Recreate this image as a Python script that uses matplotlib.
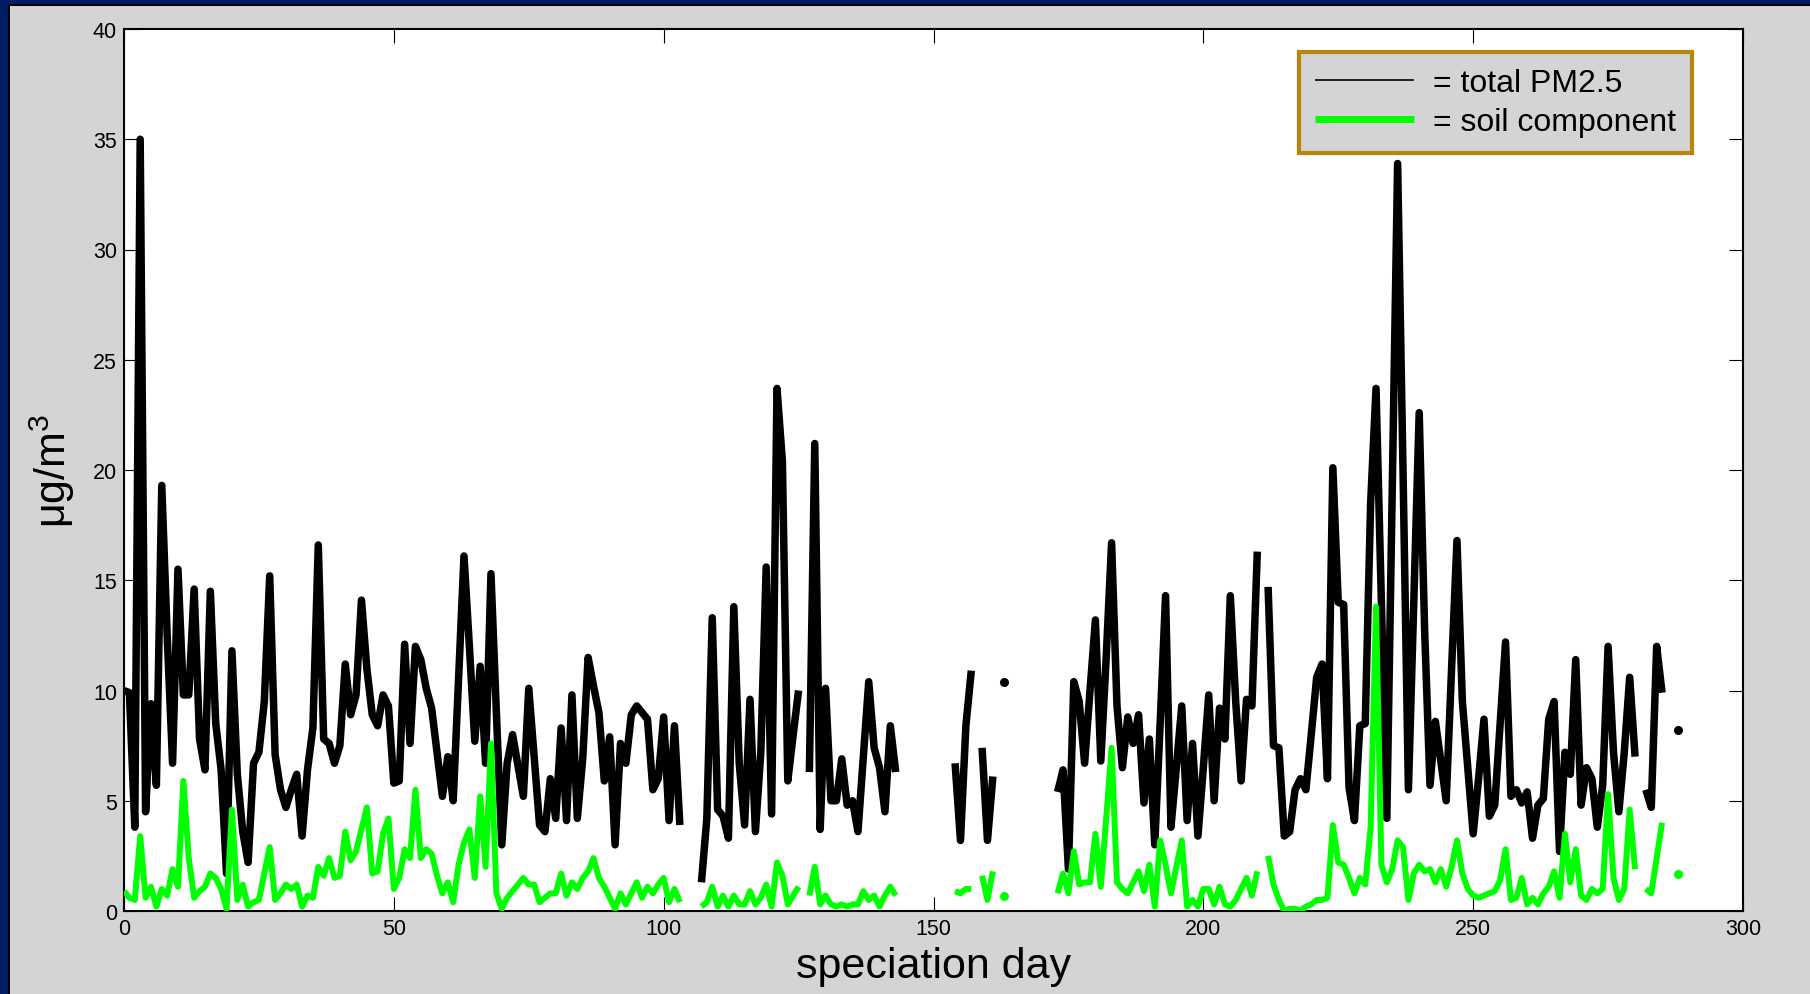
import numpy as np
import matplotlib
matplotlib.use("Agg")
import matplotlib.pyplot as plt
from matplotlib.patches import Rectangle

# speciation days where each run of valid samples begins
seg_start = [0, 107, 127, 154, 159, 163, 173, 212, 282, 288]

# total PM2.5 (ug/m3), one list per run
total_pm25 = [
    [10.0, 9.9, 3.8, 35.0, 4.5, 9.4, 5.7, 19.3, 12.5, 6.7,
     15.5, 9.8, 9.8, 14.6, 7.8, 6.4, 14.5, 8.5, 6.4, 1.7,
     11.8, 6.2, 3.6, 2.2, 6.7, 7.2, 9.5, 15.2, 7.1, 5.5,
     4.7, 5.5, 6.2, 3.4, 6.4, 8.3, 16.6, 7.8, 7.6, 6.7,
     7.5, 11.2, 8.9, 9.8, 14.1, 11.0, 8.9, 8.4, 9.8, 9.3,
     5.8, 5.9, 12.1, 7.6, 12.0, 11.4, 10.1, 9.2, 7.2, 5.2,
     7.0, 5.0, 10.5, 16.1, 12.0, 7.7, 11.1, 6.7, 15.3, 9.0,
     3.0, 6.7, 8.0, 6.6, 5.2, 10.1, 7.0, 3.9, 3.6, 6.0,
     4.2, 8.3, 4.1, 9.8, 4.2, 6.9, 11.5, 10.2, 9.0, 5.9,
     7.9, 3.0, 7.6, 6.7, 8.9, 9.3, 9.0, 8.7, 5.5, 6.0,
     8.8, 4.1, 8.4, 3.9],
    [1.3, 4.2, 13.3, 4.6, 4.3, 3.3, 13.8, 6.7, 3.9, 9.6,
     3.6, 7.2, 15.6, 4.4, 23.7, 20.4, 5.9, 8.0, 10.0],
    [6.3, 21.2, 3.7, 10.1, 5.0, 5.0, 6.9, 4.8, 5.0, 3.6,
     7.0, 10.4, 7.4, 6.5, 4.5, 8.4, 6.3],
    [6.7, 3.2, 8.4, 10.9],
    [7.4, 3.2, 6.1],
    [10.4],
    [5.4, 6.4, 1.9, 10.4, 9.5, 6.7, 10.0, 13.2, 6.8, 11.5,
     16.7, 9.3, 6.5, 8.8, 7.6, 8.9, 4.9, 7.8, 3.0, 8.5,
     14.3, 3.8, 6.5, 9.3, 4.1, 7.6, 3.4, 6.5, 9.8, 5.0,
     9.2, 7.8, 14.3, 9.5, 5.9, 9.6, 9.3, 16.3],
    [14.7, 7.5, 7.4, 3.4, 3.6, 5.5, 6.0, 5.5, 8.0, 10.6,
     11.2, 6.0, 20.1, 14.0, 13.9, 5.6, 4.1, 8.4, 8.5, 18.5,
     23.7, 14.0, 4.2, 19.0, 33.9, 20.0, 5.5, 14.0, 22.6, 12.8,
     5.7, 8.6, 6.8, 5.0, 11.0, 16.8, 9.5, 6.5, 3.5, 6.0,
     8.7, 4.3, 4.8, 8.5, 12.2, 5.2, 5.5, 4.9, 5.4, 3.3,
     4.8, 5.1, 8.7, 9.5, 2.7, 7.2, 6.2, 11.4, 4.8, 6.5,
     6.0, 3.8, 5.7, 12.0, 7.2, 4.5, 7.2, 10.6, 7.0],
    [5.5, 4.7, 12.0, 9.9],
    [8.2],
]

# soil component (ug/m3), same runs
soil = [
    [0.9, 0.6, 0.5, 3.4, 0.6, 1.1, 0.2, 1.0, 0.7, 1.9,
     1.1, 5.9, 2.4, 0.6, 0.9, 1.1, 1.7, 1.5, 1.0, 0.1,
     4.6, 0.5, 1.2, 0.2, 0.4, 0.5, 1.7, 2.9, 0.5, 0.8,
     1.2, 1.0, 1.2, 0.2, 0.7, 0.6, 2.0, 1.6, 2.4, 1.5,
     1.6, 3.6, 2.3, 2.7, 3.7, 4.7, 1.7, 1.8, 3.5, 4.2,
     1.0, 1.5, 2.8, 2.4, 5.5, 2.4, 2.8, 2.6, 1.6, 0.8,
     1.3, 0.4, 2.1, 3.1, 3.7, 1.5, 5.2, 2.0, 7.6, 0.8,
     0.1, 0.6, 0.9, 1.2, 1.5, 1.2, 1.2, 0.4, 0.6, 0.8,
     0.8, 1.7, 0.7, 1.3, 1.0, 1.5, 1.8, 2.4, 1.5, 1.1,
     0.6, 0.1, 0.8, 0.3, 0.8, 1.3, 0.6, 1.1, 0.8, 1.2,
     1.5, 0.4, 1.0, 0.4],
    [0.2, 0.4, 1.1, 0.2, 0.7, 0.2, 0.7, 0.3, 0.3, 0.9,
     0.3, 0.6, 1.2, 0.2, 2.2, 1.6, 0.3, 0.7, 1.1],
    [0.7, 2.0, 0.3, 0.7, 0.3, 0.2, 0.3, 0.2, 0.3, 0.3,
     0.9, 0.5, 0.7, 0.2, 0.7, 1.1, 0.7],
    [0.9, 0.8, 1.0, 1.0],
    [1.6, 0.5, 1.8],
    [0.7],
    [0.8, 1.7, 0.8, 2.7, 1.2, 1.3, 1.3, 3.5, 1.1, 4.2,
     7.4, 1.3, 1.0, 0.8, 1.3, 1.8, 0.9, 2.1, 0.2, 3.2,
     2.1, 0.8, 2.0, 3.2, 0.2, 0.5, 0.2, 1.0, 1.0, 0.3,
     1.1, 0.3, 0.2, 0.5, 1.0, 1.5, 0.7, 1.8],
    [2.5, 1.2, 0.5, 0.0, 0.1, 0.1, 0.0, 0.2, 0.3, 0.5,
     0.5, 0.6, 3.9, 2.2, 2.1, 1.5, 0.8, 1.5, 1.2, 3.8,
     13.8, 2.1, 1.3, 1.9, 3.2, 2.9, 0.5, 1.7, 2.1, 1.8,
     1.9, 1.3, 1.9, 1.1, 2.0, 3.2, 1.7, 1.0, 0.7, 0.6,
     0.7, 0.8, 0.9, 1.4, 2.8, 0.5, 0.6, 1.5, 0.3, 0.6,
     0.3, 0.8, 1.1, 1.8, 0.6, 3.5, 1.3, 2.8, 0.7, 0.5,
     1.0, 0.8, 1.0, 5.3, 1.5, 0.5, 1.0, 4.6, 1.9],
    [1.0, 0.8, 2.4, 4.0],
    [1.7],
]

n_days = 289
xticks = [0, 50, 100, 150, 200, 250, 300]
yticks = [0, 5, 10, 15, 20, 25, 30, 35, 40]


def build_series(starts, runs):
    y = np.full(n_days, np.nan)
    for s, vals in zip(starts, runs):
        y[s:s + len(vals)] = vals
    return y


def lone_points(y):
    # samples with no valid neighbour on either side show up as dots
    ok = ~np.isnan(y)
    left = np.r_[False, ok[:-1]]
    right = np.r_[ok[1:], False]
    return ok & ~left & ~right


day = np.arange(n_days)
pm = build_series(seg_start, total_pm25)
sl = build_series(seg_start, soil)

plt.rcParams['font.family'] = ['Liberation Sans', 'DejaVu Sans']
plt.rcParams['mathtext.fontset'] = 'custom'
plt.rcParams['mathtext.rm'] = 'Liberation Sans'
plt.rcParams['mathtext.it'] = 'Liberation Sans'

bg = '#D4D4D6'
navy = '#001C62'
fig = plt.figure(figsize=(18.1, 9.95), dpi=100, facecolor=bg)

# slide frame, dark blue on the left and top
fig.patches.append(Rectangle((0, 0), 8 / 1810, 1, transform=fig.transFigure,
                             facecolor=navy, edgecolor='none', zorder=0))
fig.patches.append(Rectangle((0, 1 - 5 / 995), 1, 5 / 995, transform=fig.transFigure,
                             facecolor=navy, edgecolor='none', zorder=0))
fig.patches.append(Rectangle((8 / 1810, 0), 1.5 / 1810, 1 - 5 / 995, transform=fig.transFigure,
                             facecolor='#000000', edgecolor='none', zorder=0))
fig.patches.append(Rectangle((8 / 1810, 1 - 6.5 / 995), 1, 1.5 / 995, transform=fig.transFigure,
                             facecolor='#000000', edgecolor='none', zorder=0))

ax = fig.add_axes([124 / 1810, 1 - 912 / 995, 1619 / 1810, 882 / 995])
ax.set_facecolor('white')

l1, = ax.plot(day, pm, color='black', lw=5.4, solid_joinstyle='round',
              solid_capstyle='butt', label='= total PM2.5', zorder=3)
l2, = ax.plot(day, sl, color='#00FF00', lw=4.3, solid_joinstyle='round',
              solid_capstyle='butt', label='= soil component', zorder=4)

lp = lone_points(pm)
ax.plot(day[lp], pm[lp], 'o', color='black', ms=6.5, mew=0, zorder=3)
ls = lone_points(sl)
ax.plot(day[ls], sl[ls], 'o', color='#00FF00', ms=6.5, mew=0, zorder=4)

ax.set_xlim(0, 300)
ax.set_ylim(0, 40)
ax.set_xticks(xticks)
ax.set_yticks(yticks)
ax.tick_params(direction='in', length=10, width=0.8, top=True, right=True,
               labelsize=15.5, pad=5)
for sp in ax.spines.values():
    sp.set_linewidth(1.5)

ax.set_xlabel('speciation day', fontsize=31, va='center')
ax.xaxis.set_label_coords(0.5, -0.062)
ax.set_ylabel('μg/m$^{3}$', fontsize=31, va='center')
ax.yaxis.set_label_coords(-0.0445, 0.5)

leg = ax.legend(handles=[l1, l2], loc='upper right', bbox_to_anchor=(0.9685, 0.974),
                borderaxespad=0, fontsize=23, frameon=True, fancybox=False,
                handlelength=3.1, handletextpad=0.6, borderpad=0.5,
                labelspacing=0.28)
leg.get_frame().set_facecolor(bg)
leg.get_frame().set_edgecolor('#B8860B')
leg.get_frame().set_linewidth(3)
leg.get_frame().set_alpha(1)
leg.get_lines()[0].set_linewidth(1.2)
leg.get_lines()[1].set_linewidth(5)

fig.savefig('out.png', dpi=100, facecolor=bg)
